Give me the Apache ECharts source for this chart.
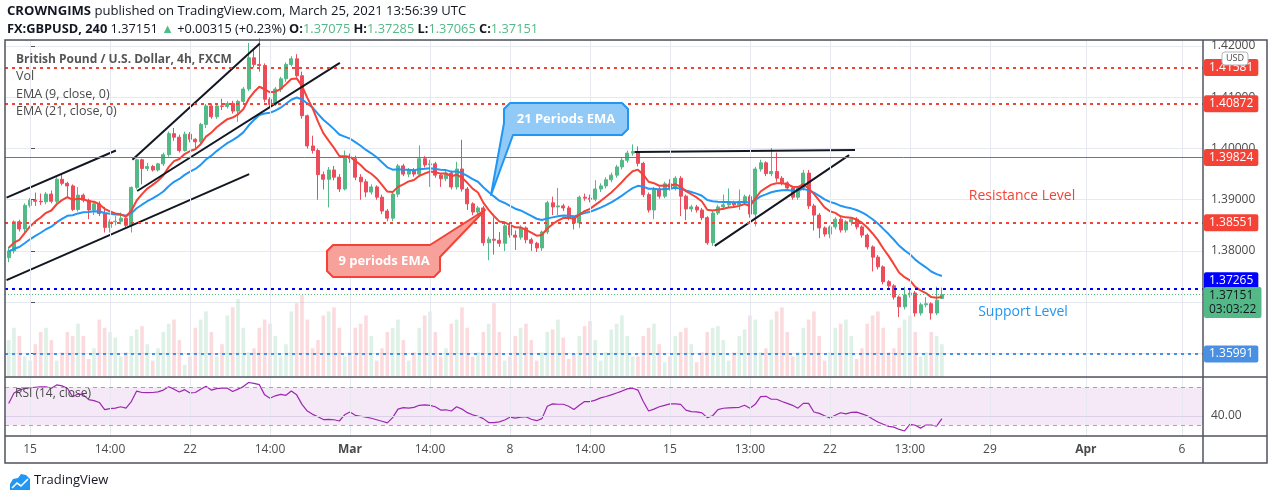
<!DOCTYPE html>
<html>
<head>
<meta charset="utf-8">
<script src="https://cdn.jsdelivr.net/npm/echarts@6/dist/echarts.min.js"></script>
<style>
  html, body { margin: 0; padding: 0; background: #fff; }
  #chart { width: 1274px; height: 500px; }
</style>
</head>
<body>
<div id="chart"></div>
<script>
// bar index of the first candle (Fri 12 Feb); index 0 = first bar of Mon 15 Feb, 6 bars a day, weekends skipped
const firstIdx = -4

// [open, close, low, high] per 4h bar
const candles = [
  [1.3787, 1.3800, 1.3778, 1.3808], [1.3800, 1.3857, 1.3795, 1.3860], [1.3857, 1.3843, 1.3838, 1.3861], [1.3843, 1.3889, 1.3836, 1.3893],
  // week of Feb 15
  [1.3889, 1.3899, 1.3885, 1.3903], [1.3899, 1.3897, 1.3888, 1.3914], [1.3897, 1.3896, 1.3890, 1.3912], [1.3896, 1.3911, 1.3891, 1.3915], [1.3911, 1.3897, 1.3893, 1.3918], [1.3897, 1.3940, 1.3893, 1.3944],
  [1.3940, 1.3932, 1.3928, 1.3950], [1.3932, 1.3927, 1.3905, 1.3935], [1.3927, 1.3881, 1.3878, 1.3930], [1.3881, 1.3909, 1.3877, 1.3925], [1.3909, 1.3899, 1.3895, 1.3912], [1.3899, 1.3880, 1.3862, 1.3902],
  [1.3880, 1.3892, 1.3870, 1.3895], [1.3892, 1.3873, 1.3868, 1.3897], [1.3873, 1.3846, 1.3836, 1.3886], [1.3846, 1.3857, 1.3836, 1.3862], [1.3857, 1.3858, 1.3850, 1.3868], [1.3858, 1.3864, 1.3852, 1.3875],
  [1.3864, 1.3850, 1.3846, 1.3866], [1.3850, 1.3924, 1.3836, 1.3926], [1.3924, 1.3978, 1.3920, 1.3980], [1.3978, 1.3961, 1.3930, 1.3980], [1.3961, 1.3965, 1.3956, 1.3972], [1.3965, 1.3958, 1.3955, 1.3968],
  [1.3958, 1.3970, 1.3955, 1.3972], [1.3970, 1.3988, 1.3966, 1.3992], [1.3988, 1.4029, 1.3984, 1.4033], [1.4029, 1.4022, 1.4015, 1.4040], [1.4022, 1.3996, 1.3992, 1.4027], [1.3996, 1.4028, 1.3994, 1.4033],
  // week of Feb 22
  [1.4028, 1.4018, 1.4012, 1.4032], [1.4018, 1.4013, 1.4000, 1.4020], [1.4013, 1.4047, 1.4008, 1.4050], [1.4047, 1.4083, 1.4040, 1.4087], [1.4083, 1.4062, 1.4058, 1.4088], [1.4062, 1.4083, 1.4058, 1.4086],
  [1.4083, 1.4082, 1.4075, 1.4097], [1.4082, 1.4088, 1.4078, 1.4092], [1.4088, 1.4073, 1.4068, 1.4093], [1.4073, 1.4092, 1.4052, 1.4095], [1.4092, 1.4116, 1.4088, 1.4120], [1.4116, 1.4177, 1.4112, 1.4206],
  [1.4177, 1.4164, 1.4158, 1.4195], [1.4164, 1.4162, 1.4150, 1.4215], [1.4162, 1.4096, 1.4090, 1.4166], [1.4096, 1.4086, 1.4080, 1.4100], [1.4086, 1.4116, 1.4083, 1.4120], [1.4116, 1.4136, 1.4110, 1.4140],
  [1.4136, 1.4164, 1.4130, 1.4168], [1.4164, 1.4175, 1.4160, 1.4180], [1.4175, 1.4142, 1.4138, 1.4184], [1.4142, 1.4064, 1.4058, 1.4150], [1.4064, 1.4005, 1.4000, 1.4066], [1.4005, 1.3996, 1.3990, 1.4025],
  [1.3996, 1.3949, 1.3900, 1.4000], [1.3949, 1.3940, 1.3920, 1.3955], [1.3940, 1.3958, 1.3885, 1.3964], [1.3958, 1.3944, 1.3938, 1.3966], [1.3944, 1.3921, 1.3915, 1.3950], [1.3921, 1.3983, 1.3918, 1.3996],
  // week of Mar 1
  [1.3983, 1.3980, 1.3972, 1.3990], [1.3980, 1.3944, 1.3938, 1.3986], [1.3944, 1.3935, 1.3900, 1.3950], [1.3935, 1.3915, 1.3905, 1.3940], [1.3915, 1.3925, 1.3910, 1.3930], [1.3925, 1.3905, 1.3900, 1.3928],
  [1.3905, 1.3878, 1.3872, 1.3910], [1.3878, 1.3864, 1.3858, 1.3882], [1.3864, 1.3911, 1.3858, 1.3915], [1.3911, 1.3966, 1.3905, 1.3970], [1.3966, 1.3950, 1.3946, 1.3970], [1.3950, 1.3958, 1.3944, 1.3962],
  [1.3958, 1.3950, 1.3945, 1.3962], [1.3950, 1.3980, 1.3944, 1.4006], [1.3980, 1.3968, 1.3963, 1.3985], [1.3968, 1.3970, 1.3925, 1.3978], [1.3970, 1.3948, 1.3943, 1.3974], [1.3948, 1.3941, 1.3925, 1.3952],
  [1.3941, 1.3952, 1.3936, 1.3956], [1.3952, 1.3925, 1.3920, 1.3957], [1.3925, 1.3960, 1.3920, 1.3974], [1.3960, 1.3921, 1.3916, 1.4017], [1.3921, 1.3892, 1.3880, 1.3925], [1.3892, 1.3876, 1.3870, 1.3895],
  [1.3876, 1.3884, 1.3872, 1.3888], [1.3884, 1.3816, 1.3810, 1.3888], [1.3816, 1.3823, 1.3782, 1.3828], [1.3823, 1.3821, 1.3793, 1.3866], [1.3821, 1.3815, 1.3808, 1.3837], [1.3815, 1.3849, 1.3800, 1.3856],
  // week of Mar 8
  [1.3849, 1.3831, 1.3826, 1.3852], [1.3831, 1.3827, 1.3802, 1.3840], [1.3827, 1.3845, 1.3822, 1.3850], [1.3845, 1.3822, 1.3815, 1.3848], [1.3822, 1.3815, 1.3800, 1.3826], [1.3815, 1.3806, 1.3798, 1.3818],
  [1.3806, 1.3837, 1.3800, 1.3840], [1.3837, 1.3894, 1.3833, 1.3898], [1.3894, 1.3886, 1.3870, 1.3906], [1.3886, 1.3888, 1.3870, 1.3923], [1.3888, 1.3884, 1.3878, 1.3892], [1.3884, 1.3866, 1.3860, 1.3888],
  [1.3866, 1.3855, 1.3842, 1.3868], [1.3855, 1.3905, 1.3845, 1.3908], [1.3905, 1.3903, 1.3898, 1.3912], [1.3903, 1.3901, 1.3895, 1.3910], [1.3901, 1.3921, 1.3897, 1.3938], [1.3921, 1.3927, 1.3915, 1.3932],
  [1.3927, 1.3939, 1.3922, 1.3944], [1.3939, 1.3948, 1.3934, 1.3953], [1.3948, 1.3964, 1.3943, 1.3968], [1.3964, 1.3977, 1.3959, 1.3982], [1.3977, 1.3991, 1.3972, 1.3996], [1.3991, 1.3994, 1.3986, 1.4008],
  [1.3994, 1.3971, 1.3965, 1.4004], [1.3971, 1.3910, 1.3905, 1.3974], [1.3910, 1.3880, 1.3875, 1.3914], [1.3880, 1.3921, 1.3862, 1.3925], [1.3921, 1.3907, 1.3902, 1.3925], [1.3907, 1.3931, 1.3903, 1.3935],
  // week of Mar 15
  [1.3931, 1.3924, 1.3918, 1.3940], [1.3924, 1.3942, 1.3918, 1.3946], [1.3942, 1.3907, 1.3868, 1.3946], [1.3907, 1.3882, 1.3860, 1.3910], [1.3882, 1.3886, 1.3876, 1.3890], [1.3886, 1.3880, 1.3875, 1.3890],
  [1.3880, 1.3865, 1.3860, 1.3884], [1.3865, 1.3816, 1.3812, 1.3868], [1.3816, 1.3874, 1.3810, 1.3878], [1.3874, 1.3886, 1.3870, 1.3890], [1.3886, 1.3890, 1.3880, 1.3910], [1.3890, 1.3894, 1.3885, 1.3922],
  [1.3894, 1.3890, 1.3884, 1.3898], [1.3890, 1.3897, 1.3880, 1.3920], [1.3897, 1.3906, 1.3892, 1.3910], [1.3906, 1.3872, 1.3865, 1.3910], [1.3872, 1.3960, 1.3848, 1.3964], [1.3960, 1.3972, 1.3955, 1.3978],
  [1.3972, 1.3951, 1.3946, 1.3975], [1.3951, 1.3955, 1.3946, 1.4001], [1.3955, 1.3942, 1.3935, 1.3992], [1.3942, 1.3933, 1.3928, 1.3946], [1.3933, 1.3923, 1.3918, 1.3936], [1.3923, 1.3905, 1.3900, 1.3926],
  [1.3905, 1.3923, 1.3900, 1.3927], [1.3923, 1.3952, 1.3918, 1.3958], [1.3952, 1.3888, 1.3882, 1.3958], [1.3888, 1.3870, 1.3840, 1.3892], [1.3870, 1.3845, 1.3825, 1.3874], [1.3845, 1.3833, 1.3828, 1.3848],
  // week of Mar 22
  [1.3833, 1.3847, 1.3825, 1.3850], [1.3847, 1.3862, 1.3842, 1.3866], [1.3862, 1.3841, 1.3836, 1.3866], [1.3841, 1.3857, 1.3836, 1.3860], [1.3857, 1.3862, 1.3850, 1.3866], [1.3862, 1.3847, 1.3842, 1.3866],
  [1.3847, 1.3831, 1.3826, 1.3850], [1.3831, 1.3808, 1.3803, 1.3834], [1.3808, 1.3788, 1.3760, 1.3811], [1.3788, 1.3769, 1.3764, 1.3792], [1.3769, 1.3740, 1.3735, 1.3772], [1.3740, 1.3732, 1.3727, 1.3743],
  [1.3732, 1.3710, 1.3705, 1.3735], [1.3710, 1.3691, 1.3671, 1.3713], [1.3691, 1.3714, 1.3686, 1.3730], [1.3714, 1.3718, 1.3709, 1.3728], [1.3718, 1.3679, 1.3672, 1.3722], [1.3679, 1.3695, 1.3674, 1.3699],
  [1.3695, 1.3697, 1.3690, 1.3710], [1.3697, 1.3679, 1.3666, 1.3700], [1.3679, 1.3704, 1.3675, 1.3730], [1.37075, 1.37151, 1.37065, 1.37285]
]

const volume = [
  45, 60, 50, 25,
  20, 40, 55, 60, 45, 20, 30, 55, 50, 65, 50, 22, 35, 70, 60, 55, 48, 25, 30, 50, 58, 62, 40, 20, 35, 55, 65, 70, 45, 15,
  25, 60, 70, 80, 55, 25, 40, 75, 85, 95, 60, 30, 35, 60, 70, 65, 50, 25, 40, 80, 90, 100, 70, 35, 45, 75, 80, 85, 60, 25,
  30, 60, 65, 75, 50, 20, 35, 55, 60, 70, 45, 20, 30, 60, 75, 80, 55, 25, 35, 65, 70, 85, 60, 25, 30, 55, 65, 90, 55, 20,
  25, 50, 60, 65, 45, 20, 30, 55, 58, 70, 48, 22, 28, 50, 62, 68, 45, 20, 30, 58, 65, 75, 50, 25, 25, 50, 60, 65, 40, 18,
  25, 50, 55, 60, 40, 18, 30, 55, 60, 62, 45, 20, 30, 50, 58, 75, 70, 30, 35, 70, 80, 85, 55, 25, 30, 60, 70, 80, 50, 20,
  30, 60, 65, 70, 50, 22, 35, 65, 75, 80, 60, 30, 35, 60, 70, 75, 55, 25, 30, 55, 50, 40
]

const rsi = [
  53, 64, 67, 69,
  69.5, 70, 70.5, 70.5, 69, 72.5, 71.5, 69, 60, 63, 62, 57, 56, 54, 46.5, 47.5, 48, 49.5, 48, 55, 66, 64.5, 64.4, 64.5, 65.2, 67, 70.5, 68, 65, 67.5,
  64, 64.5, 68, 71, 67, 68.5, 69, 69, 65.5, 68, 70.7, 75, 74, 72.8, 62, 58.4, 61, 62.5, 61.5, 66, 62, 52, 45, 41.5, 39, 36, 36.3, 35.8, 34.5, 41,
  44, 40.5, 39.5, 38.5, 37.4, 35.8, 34.2, 32.5, 38, 47, 48.5, 48, 48.8, 51, 51.5, 51, 49.5, 46, 46.3, 45, 49.5, 47, 43.3, 41, 39.5, 37, 32.8, 32.8, 33.5, 35.5,
  38.5, 37.5, 38.5, 39, 36.3, 34.8, 37, 50, 52.5, 52.1, 52.1, 50, 46.6, 51, 54.9, 54.9, 56.5, 58.8, 60.3, 62, 64, 66, 68.3, 69, 67, 55, 45, 47, 49.5, 51,
  52.5, 52.5, 52, 46, 44.3, 44, 43, 38, 40, 46.5, 47.9, 48.3, 48.6, 48.9, 51, 48, 52, 60.2, 60.5, 57.4, 57.4, 55, 53, 51, 48, 53, 53, 44, 42.5, 40,
  37.6, 40.5, 43.2, 42, 43.5, 43.8, 42, 40, 36.5, 33.5, 31, 28.8, 28, 25.6, 24, 31, 30, 27, 30.3, 30.3, 29, 37
]

// EMA values at the first visible bar
const ema9Start = 1.3806
const ema21Start = 1.3799

const tickIdx = [0, 15, 30, 45, 60, 75, 90, 105, 120, 135, 150, 165, 180, 198, 216]
const tickText = ['15', '14:00', '22', '14:00', 'Mar', '14:00', '8', '14:00', '15', '13:00', '22', '13:00', '29', 'Apr', '6']

const resistLevels = [1.41581, 1.40872, 1.38551]
const solidLevel = 1.39824
const blueLevel = 1.37265
const lastPrice = 1.37151
const supportLevel = 1.35991

// drawn trend lines, [bar index, price] end points
const trendLines = [
  [[-4.4, 1.3904], [16.1, 1.3996]],
  [[-4.4, 1.3743], [41.1, 1.3950]],
  [[19.2, 1.3978], [43.1, 1.4205]],
  [[20.1, 1.3917], [58.1, 1.4167]],
  [[113.4, 1.3993], [154.7, 1.3997]],
  [[128.4, 1.3810], [153.6, 1.3987]]
]

const upColor = '#53b987'
const downColor = '#eb4d5c'
const font = 'Open Sans'
const frameColor = '#50535e'

function ema (period, start) {
  const k = 2 / (period + 1)
  let e = start
  return candles.map((c, n) => {
    if (n > 0) e = e + k * (c[1] - e)
    return [firstIdx + n, +e.toFixed(5)]
  })
}

function boxLabel (bg, fg, text, offset) {
  return {
    show: true,
    position: 'end',
    distance: 1,
    formatter: text,
    backgroundColor: bg,
    color: fg,
    fontFamily: font,
    fontSize: 12,
    lineHeight: 14,
    padding: [2, 5, 1, 5],
    borderRadius: 2,
    offset: offset || [0, 0]
  }
}

const chart = echarts.init(document.getElementById('chart'))

const xMin = -4.69
const xMax = 219.96
const gridLine = '#e6eaf0'
const vGrid = tickIdx.map(v => ({ xAxis: v }))

const option = {
  animation: false,
  backgroundColor: '#fff',
  grid: [
    { left: 5, top: 40, width: 1198, height: 337 },
    { left: 5, top: 377, width: 1198, height: 59 }
  ],
  xAxis: [
    { type: 'value', gridIndex: 0, min: xMin, max: xMax, axisLine: { show: false }, axisTick: { show: false }, axisLabel: { show: false }, splitLine: { show: false } },
    {
      type: 'value',
      gridIndex: 1,
      min: xMin,
      max: xMax,
      axisLine: { show: false },
      axisTick: { show: false },
      splitLine: { show: false },
      axisLabel: {
        customValues: tickIdx,
        margin: 8,
        color: '#4a4a4a',
        fontFamily: font,
        fontSize: 12,
        formatter: v => {
          const t = tickText[tickIdx.indexOf(v)] || ''
          return (t === 'Mar' || t === 'Apr') ? '{m|' + t + '}' : t
        },
        rich: { m: { fontWeight: 'bold', fontFamily: font, fontSize: 12, color: '#4a4a4a' } }
      }
    }
  ],
  yAxis: [
    {
      type: 'value',
      gridIndex: 0,
      position: 'right',
      min: 1.35541,
      max: 1.42117,
      axisLine: { show: false },
      axisTick: { show: true, length: 5, lineStyle: { color: frameColor } },
      axisLabel: { color: '#4a4a4a', fontFamily: font, fontSize: 12, margin: 8, showMinLabel: false, showMaxLabel: false, formatter: v => v.toFixed(5) },
      splitLine: { lineStyle: { color: gridLine } }
    },
    { type: 'value', gridIndex: 0, min: 0, max: 411, show: false },
    {
      type: 'value',
      gridIndex: 1,
      position: 'right',
      min: 18.7,
      max: 80.8,
      axisLine: { show: false },
      axisTick: { show: true, length: 5, customValues: [40], lineStyle: { color: frameColor } },
      axisLabel: { customValues: [40], color: '#4a4a4a', fontFamily: font, fontSize: 12, margin: 8, formatter: v => v.toFixed(2) },
      splitLine: { show: false }
    }
  ],
  series: [
    {
      type: 'bar',
      xAxisIndex: 0,
      yAxisIndex: 1,
      barWidth: 3.6,
      z: 1,
      data: volume.map((v, n) => ({
        value: [firstIdx + n, v],
        itemStyle: { color: candles[n][1] >= candles[n][0] ? 'rgba(83,185,135,0.2)' : 'rgba(235,77,92,0.2)' }
      })),
      markLine: { silent: true, symbol: 'none', precision: 5, label: { show: false }, lineStyle: { color: gridLine, type: 'solid', width: 1 }, data: vGrid }
    },
    {
      type: 'candlestick',
      xAxisIndex: 0,
      yAxisIndex: 0,
      barWidth: 3.6,
      z: 2,
      itemStyle: { color: upColor, color0: downColor, borderColor: upColor, borderColor0: downColor, borderWidth: 1 },
      data: candles.map((c, n) => [firstIdx + n, c[0], c[1], c[2], c[3]]),
      markLine: {
        silent: true,
        symbol: 'none',
        precision: 5,
        data: [
          ...resistLevels.map(v => ({ yAxis: v, lineStyle: { color: '#f44336', type: [3, 4], width: 2 }, label: boxLabel('#f44336', '#fff', v.toFixed(5)) })),
          { yAxis: solidLevel, lineStyle: { color: '#f44336', type: 'solid', width: 1 }, label: boxLabel('#f44336', '#fff', solidLevel.toFixed(5)) },
          { yAxis: blueLevel, lineStyle: { color: '#0000ff', type: [3, 4], width: 2 }, label: boxLabel('#0000ff', '#fff', blueLevel.toFixed(5), [0, -8]) },
          { yAxis: lastPrice, lineStyle: { color: upColor, type: [1, 2], width: 1 }, label: boxLabel(upColor, '#131722', lastPrice.toFixed(5) + '\n03:03:22', [0, 8]) },
          { yAxis: supportLevel, lineStyle: { color: '#4a90e2', type: [3, 4], width: 2 }, label: boxLabel('#4a90e2', '#fff', supportLevel.toFixed(5)) }
        ]
      }
    },
    { type: 'line', xAxisIndex: 0, yAxisIndex: 0, data: ema(21, ema21Start), showSymbol: false, z: 3, lineStyle: { color: '#2196f3', width: 2 } },
    { type: 'line', xAxisIndex: 0, yAxisIndex: 0, data: ema(9, ema9Start), showSymbol: false, z: 3, lineStyle: { color: '#f44336', width: 2 } },
    ...trendLines.map(seg => ({
      type: 'line', xAxisIndex: 0, yAxisIndex: 0, data: seg, showSymbol: false, z: 4, silent: true,
      lineStyle: { color: '#131722', width: 2 }
    })),
    {
      type: 'line',
      xAxisIndex: 1,
      yAxisIndex: 2,
      data: rsi.map((v, n) => [firstIdx + n, v]),
      showSymbol: false,
      z: 3,
      lineStyle: { color: '#9c27b0', width: 1.2 },
      markArea: { silent: true, itemStyle: { color: 'rgba(156,39,176,0.1)' }, data: [[{ yAxis: 30 }, { yAxis: 70 }]] },
      markLine: {
        silent: true,
        symbol: 'none',
        precision: 5,
        label: { show: false },
        data: [
          ...vGrid.map(d => ({ xAxis: d.xAxis, lineStyle: { color: gridLine, type: 'solid', width: 1 } })),
          { yAxis: 40, lineStyle: { color: '#dcd0ea', type: 'solid', width: 1 } },
          { yAxis: 70, lineStyle: { color: '#a3a6af', type: [4, 4], width: 1 } },
          { yAxis: 30, lineStyle: { color: '#a3a6af', type: [4, 4], width: 1 } }
        ]
      }
    }
  ],
  graphic: [
    // header
    { type: 'text', left: 7, top: 5, style: { text: '{b|CROWNGIMS} published on TradingView.com, March 25, 2021 13:56:39 UTC', fill: '#131722', fontFamily: font, fontSize: 13.1, rich: { b: { fontWeight: 'bold', fontFamily: font, fontSize: 13.1, fill: '#131722' } } } },
    {
      type: 'text',
      left: 7,
      top: 23,
      style: {
        text: '{b|FX:GBPUSD, 240} 1.37151 {g|▲} +0.00315 (+0.23%) {b|O:}{g|1.37075} {b|H:}{g|1.37285} {b|L:}{g|1.37065} {b|C:}{g|1.37151}',
        fill: '#131722',
        fontFamily: font,
        fontSize: 12.8,
        rich: {
          b: { fontWeight: 'bold', fontFamily: font, fontSize: 12.8, fill: '#131722' },
          g: { fontFamily: font, fontSize: 12.8, fill: upColor }
        }
      }
    },
    // pane legend
    { type: 'text', left: 16, top: 54, z: 10, style: { text: 'British Pound / U.S. Dollar, 4h, FXCM', fill: '#555', fontFamily: font, fontSize: 12, fontWeight: 'bold' } },
    { type: 'text', left: 16, top: 70, z: 10, style: { text: 'Vol', fill: '#4a4a4a', fontFamily: font, fontSize: 12.5 } },
    { type: 'text', left: 16, top: 88, z: 10, style: { text: 'EMA (9, close, 0)', fill: '#4a4a4a', fontFamily: font, fontSize: 12.5 } },
    { type: 'text', left: 16, top: 105, z: 10, style: { text: 'EMA (21, close, 0)', fill: '#4a4a4a', fontFamily: font, fontSize: 12.5 } },
    { type: 'text', left: 15, top: 388, z: 10, style: { text: 'RSI (14, close)', fill: '#4a4a4a', fontFamily: font, fontSize: 12 } },
    // level captions
    { type: 'text', x: 1022, y: 196, z: 10, style: { text: 'Resistance Level', fill: '#f44336', fontFamily: font, fontSize: 14, align: 'center', verticalAlign: 'middle' } },
    { type: 'text', x: 1023, y: 312, z: 10, style: { text: 'Support Level', fill: '#2196f3', fontFamily: font, fontSize: 14, align: 'center', verticalAlign: 'middle' } },
    // callouts
    {
      type: 'polygon',
      z: 20,
      shape: { points: [[510, 103], [622, 103], [628, 109], [628, 129], [622, 135], [513, 135], [491, 195], [504, 123], [504, 109]] },
      style: { fill: '#91c9f7', stroke: '#2196f3', lineWidth: 2, lineJoin: 'round' }
    },
    { type: 'text', x: 566, y: 119, z: 21, style: { text: '21 Periods EMA', fill: '#fff', fontFamily: font, fontSize: 13, fontWeight: 'bold', align: 'center', verticalAlign: 'middle' } },
    {
      type: 'polygon',
      z: 20,
      shape: { points: [[333, 245], [430, 245], [485, 210], [440, 257], [440, 271], [434, 277], [333, 277], [327, 271], [327, 251]] },
      style: { fill: '#f8a19b', stroke: '#f44336', lineWidth: 2, lineJoin: 'round' }
    },
    { type: 'text', x: 384, y: 261, z: 21, style: { text: '9 periods EMA', fill: '#fff', fontFamily: font, fontSize: 13, fontWeight: 'bold', align: 'center', verticalAlign: 'middle' } },
    // frame
    { type: 'rect', z: 30, shape: { x: 5, y: 40, width: 1262, height: 423 }, style: { fill: 'none', stroke: frameColor, lineWidth: 1.5 } },
    { type: 'line', z: 30, shape: { x1: 1203, y1: 40, x2: 1203, y2: 463 }, style: { stroke: frameColor, lineWidth: 1.5 } },
    { type: 'line', z: 30, shape: { x1: 5, y1: 377, x2: 1267, y2: 377 }, style: { stroke: frameColor, lineWidth: 1.5 } },
    { type: 'line', z: 30, shape: { x1: 5, y1: 436, x2: 1267, y2: 436 }, style: { stroke: frameColor, lineWidth: 1.5 } },
    // currency tag
    { type: 'rect', z: 31, shape: { x: 1222, y: 52, width: 26, height: 13, r: 3 }, style: { fill: '#fff', stroke: '#b2b5be', lineWidth: 1 } },
    { type: 'text', x: 1235, y: 58.5, z: 32, style: { text: 'USD', fill: '#4a4a4a', fontFamily: font, fontSize: 9, align: 'center', verticalAlign: 'middle' } },
    // logo
    { type: 'polygon', z: 10, shape: { points: [[10, 490], [10, 484], [13, 479], [18, 478], [21, 474], [26, 475], [30, 479], [30, 490]] }, style: { fill: '#2196f3' } },
    { type: 'polyline', z: 11, shape: { points: [[12, 488], [17, 483], [21, 486], [28, 479]] }, style: { stroke: '#fff', lineWidth: 1.6, fill: 'none' } },
    { type: 'text', left: 34, top: 474, style: { text: 'TradingView', fill: '#131722', fontFamily: font, fontSize: 13 } }
  ]
}

chart.setOption(option)
</script>
</body>
</html>
